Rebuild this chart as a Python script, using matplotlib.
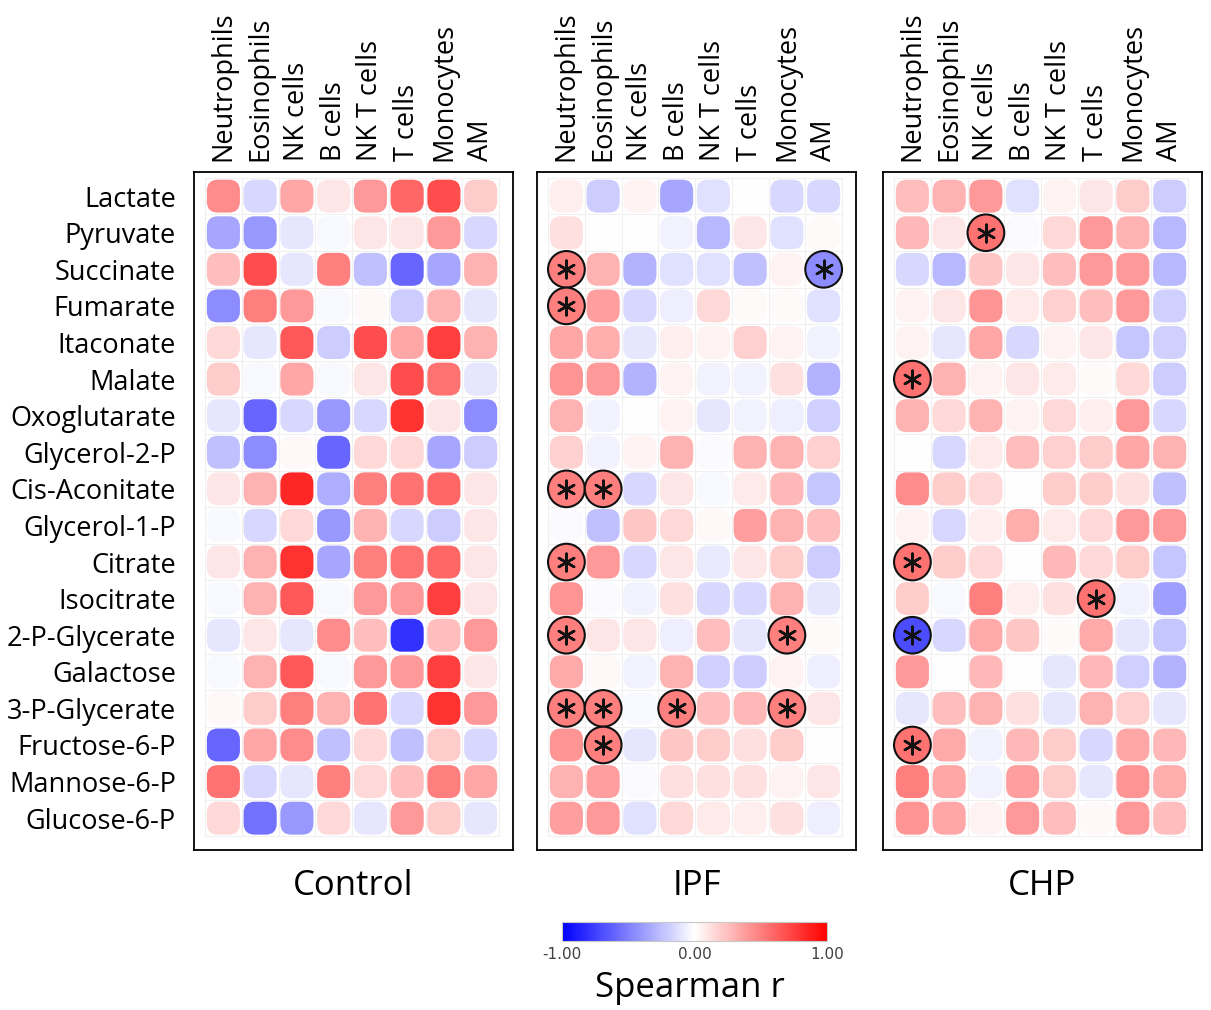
import matplotlib
matplotlib.use('Agg')
import matplotlib.pyplot as plt
from matplotlib.patches import FancyBboxPatch, Circle
import numpy as np

plt.rcParams['font.family'] = ['Open Sans', 'DejaVu Sans']

metabolites = ['Lactate', 'Pyruvate', 'Succinate', 'Fumarate', 'Itaconate', 'Malate',
               'Oxoglutarate', 'Glycerol-2-P', 'Cis-Aconitate', 'Glycerol-1-P', 'Citrate',
               'Isocitrate', '2-P-Glycerate', 'Galactose', '3-P-Glycerate', 'Fructose-6-P',
               'Mannose-6-P', 'Glucose-6-P']
cells = ['Neutrophils', 'Eosinophils', 'NK cells', 'B cells', 'NK T cells', 'T cells',
         'Monocytes', 'AM']

# spearman r (rows = metabolites, cols = cells)
control = [
    [0.45, -0.15, 0.35, 0.10, 0.40, 0.60, 0.70, 0.20],
    [-0.35, -0.40, -0.10, -0.03, 0.10, 0.10, 0.40, -0.15],
    [0.25, 0.70, -0.10, 0.50, -0.25, -0.60, -0.35, 0.30],
    [-0.45, 0.50, 0.40, -0.03, 0.03, -0.20, 0.30, -0.10],
    [0.15, -0.10, 0.65, -0.20, 0.70, 0.35, 0.75, 0.30],
    [0.20, -0.03, 0.35, -0.03, 0.10, 0.70, 0.55, -0.10],
    [-0.10, -0.60, -0.15, -0.40, -0.15, 0.80, 0.10, -0.45],
    [-0.25, -0.45, 0.03, -0.60, 0.15, 0.15, -0.35, -0.20],
    [0.10, 0.30, 0.85, -0.32, 0.50, 0.55, 0.60, 0.10],
    [-0.03, -0.15, 0.15, -0.40, 0.30, -0.15, -0.20, 0.10],
    [0.10, 0.30, 0.80, -0.35, 0.50, 0.55, 0.60, 0.10],
    [-0.03, 0.30, 0.65, -0.03, 0.40, 0.40, 0.75, 0.10],
    [-0.10, 0.10, -0.10, 0.45, 0.25, -0.80, 0.25, 0.40],
    [-0.03, 0.30, 0.65, -0.03, 0.40, 0.40, 0.75, 0.10],
    [0.03, 0.20, 0.50, 0.30, 0.55, -0.15, 0.80, 0.40],
    [-0.60, 0.35, 0.45, -0.25, 0.15, -0.25, 0.20, -0.15],
    [0.55, -0.15, -0.10, 0.50, 0.15, 0.25, 0.50, 0.35],
    [0.15, -0.55, -0.40, 0.15, -0.10, 0.40, 0.20, -0.10],
]
ipf = [
    [0.07, -0.20, 0.05, -0.35, -0.12, 0.00, -0.15, -0.15],
    [0.12, 0.00, 0.00, -0.05, -0.28, 0.10, -0.12, 0.02],
    [0.50, 0.30, -0.30, -0.12, -0.12, -0.25, 0.05, -0.45],
    [0.50, 0.38, -0.15, -0.07, 0.15, 0.02, 0.02, -0.12],
    [0.35, 0.32, -0.10, 0.07, 0.05, 0.18, 0.05, -0.05],
    [0.42, 0.40, -0.30, 0.05, -0.05, -0.05, 0.12, -0.30],
    [0.30, -0.05, 0.00, 0.05, -0.10, -0.05, -0.07, -0.18],
    [0.18, -0.05, 0.05, 0.30, -0.02, 0.30, 0.30, 0.18],
    [0.50, 0.50, -0.15, 0.10, -0.03, 0.08, 0.28, -0.22],
    [-0.02, -0.25, 0.22, 0.15, 0.03, 0.38, 0.30, 0.25],
    [0.50, 0.40, -0.15, 0.10, -0.08, 0.10, 0.20, -0.20],
    [0.42, -0.02, -0.05, 0.12, -0.15, -0.15, 0.30, -0.10],
    [0.50, 0.10, 0.10, -0.07, 0.25, -0.10, 0.50, 0.02],
    [0.33, 0.03, -0.05, 0.30, -0.18, -0.20, 0.05, -0.07],
    [0.50, 0.50, -0.03, 0.50, 0.25, 0.28, 0.50, 0.10],
    [0.42, 0.50, -0.10, 0.22, 0.20, 0.12, 0.20, 0.00],
    [0.30, 0.38, -0.02, 0.12, 0.12, 0.12, 0.05, 0.10],
    [0.38, 0.40, -0.12, 0.15, 0.08, 0.07, 0.12, -0.07],
]
chp = [
    [0.25, 0.30, 0.40, -0.12, 0.05, 0.10, 0.20, -0.20],
    [0.28, 0.10, 0.55, -0.02, 0.15, 0.40, 0.30, -0.28],
    [-0.15, -0.28, 0.22, 0.10, 0.25, 0.40, 0.40, -0.28],
    [0.05, 0.10, 0.42, 0.08, 0.18, 0.25, 0.40, -0.18],
    [0.05, -0.10, 0.35, -0.15, 0.05, 0.10, -0.22, -0.18],
    [0.55, 0.30, 0.05, 0.10, 0.08, 0.02, 0.15, -0.20],
    [0.30, 0.15, 0.30, 0.05, 0.15, 0.07, 0.40, -0.15],
    [0.00, -0.15, 0.08, 0.25, 0.18, 0.20, 0.35, 0.30],
    [0.45, 0.20, 0.15, 0.00, 0.20, 0.20, 0.12, -0.25],
    [0.05, -0.15, 0.07, 0.32, 0.08, 0.15, 0.40, 0.40],
    [0.55, 0.20, 0.15, 0.00, 0.28, 0.15, 0.20, -0.22],
    [0.20, -0.03, 0.50, 0.07, 0.12, 0.55, -0.05, -0.38],
    [-0.70, -0.15, 0.33, 0.22, 0.02, 0.33, -0.10, -0.22],
    [0.40, 0.00, 0.28, 0.00, -0.10, 0.28, -0.18, -0.30],
    [-0.10, 0.25, 0.30, 0.12, -0.10, 0.30, 0.18, -0.10],
    [0.55, 0.33, -0.05, 0.28, 0.20, -0.15, 0.35, 0.28],
    [0.50, 0.35, -0.05, 0.38, 0.20, -0.10, 0.42, 0.32],
    [0.42, 0.35, 0.05, 0.40, 0.25, 0.03, 0.40, 0.25],
]

# significant cells (row, col)
control_sig = []
ipf_sig = [(2, 0), (2, 7), (3, 0), (8, 0), (8, 1), (10, 0), (12, 0), (12, 6),
           (14, 0), (14, 1), (14, 3), (14, 6), (15, 1)]
chp_sig = [(1, 2), (5, 0), (10, 0), (11, 5), (12, 0), (15, 0)]

panels = [('Control', control, control_sig, 194),
          ('IPF', ipf, ipf_sig, 537),
          ('CHP', chp, chp_sig, 883)]

W, H = 1211, 1010
fig = plt.figure(figsize=(W / 100, H / 100), dpi=100)
cmap = plt.get_cmap('bwr')
norm = plt.Normalize(-1, 1)

for title, vals, sig, left in panels:
    vals = np.array(vals)
    ax = fig.add_axes([left / W, 1 - 850 / H, 319 / W, 678 / H])
    nr, nc = vals.shape

    # faint grid between cells
    for k in range(nc + 1):
        ax.plot([k - 0.5, k - 0.5], [-0.5, nr - 0.5], color='#f0f0f0', lw=0.8, zorder=0)
    for k in range(nr + 1):
        ax.plot([-0.5, nc - 0.5], [k - 0.5, k - 0.5], color='#f0f0f0', lw=0.8, zorder=0)

    for i in range(nr):
        for j in range(nc):
            c = cmap(norm(vals[i, j]))
            if (i, j) in sig:
                ax.add_patch(Circle((j, i), 0.5, facecolor=c, edgecolor='#111111',
                                    lw=1.5, zorder=3))
            else:
                ax.add_patch(FancyBboxPatch((j - 0.45, i - 0.45), 0.9, 0.9,
                                            boxstyle='round,pad=0,rounding_size=0.3',
                                            facecolor=c, edgecolor='none', zorder=2))
    if sig:
        sy, sx = zip(*sig)
        ax.scatter(sx, sy, marker=(6, 2, 0), s=160, color='#111111', lw=1.8, zorder=4)

    ax.set_xlim(-0.8, 7.88)
    ax.set_ylim(17.87, -0.66)
    ax.xaxis.tick_top()
    ax.set_xticks(range(nc))
    ax.set_xticklabels(cells, rotation=90, fontsize=19.5)
    ax.tick_params(axis='x', length=0, pad=8)
    if title == 'Control':
        ax.set_yticks(range(nr))
        ax.set_yticklabels(metabolites, fontsize=19.5)
        ax.tick_params(axis='y', length=0, pad=13)
    else:
        ax.set_yticks([])
    for s in ax.spines.values():
        s.set_linewidth(1.3)
    ax.text(0.5, -0.053, title, transform=ax.transAxes, ha='center', va='center',
            fontsize=25)

# colorbar
cax = fig.add_axes([562 / W, 1 - 941 / H, 265 / W, 19 / H])
cb = fig.colorbar(plt.cm.ScalarMappable(norm=norm, cmap=cmap), cax=cax,
                  orientation='horizontal')
cb.set_ticks([-1, 0, 1])
cb.set_ticklabels(['-1.00', '0.00', '1.00'])
cb.outline.set_edgecolor('#c8c8c8')
cax.tick_params(length=0, pad=4, labelsize=11, labelcolor='#404040')
for lab in cax.get_xticklabels():
    lab.set_family(['Liberation Sans Narrow', 'DejaVu Sans'])
fig.text(690 / W, 1 - 988 / H, 'Spearman r', ha='center', va='center', fontsize=25)

plt.savefig('out.png', dpi=100)
